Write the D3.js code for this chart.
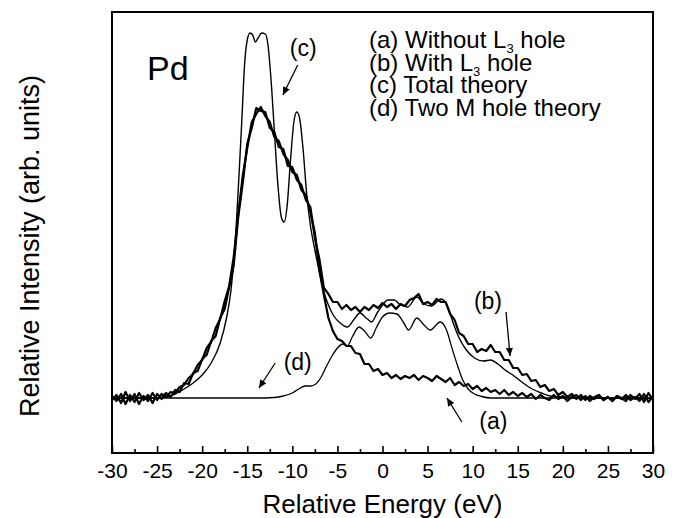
<!DOCTYPE html>
<html>
<head>
<meta charset="utf-8">
<script src="https://cdn.jsdelivr.net/npm/d3@7"></script>
<style>
    body { margin: 0; background: #fff; }
    svg { display: block; font-family: "Liberation Sans", Arial, Helvetica, sans-serif; }
</style>
</head>
<body>
<svg id="chart"></svg>
<script>
// experimental spectra, sampled every 0.5 eV (arb. units, baseline = 0)
const expEnergy = [
    -30, -29.5, -29, -28.5, -28, -27.5, -27, -26.5, -26, -25.5,
    -25, -24.5, -24, -23.5, -23, -22.5, -22, -21.5, -21, -20.5,
    -20, -19.5, -19, -18.5, -18, -17.5, -17, -16.5, -16, -15.5,
    -15, -14.5, -14, -13.5, -13, -12.5, -12, -11.5, -11, -10.5,
    -10, -9.5, -9, -8.5, -8, -7.5, -7, -6.5, -6, -5.5,
    -5, -4.5, -4, -3.5, -3, -2.5, -2, -1.5, -1, -0.5,
    0, 0.5, 1, 1.5, 2, 2.5, 3, 3.5, 4, 4.5,
    5, 5.5, 6, 6.5, 7, 7.5, 8, 8.5, 9, 9.5,
    10, 10.5, 11, 11.5, 12, 12.5, 13, 13.5, 14, 14.5,
    15, 15.5, 16, 16.5, 17, 17.5, 18, 18.5, 19, 19.5,
    20, 20.5, 21, 21.5, 22, 22.5, 23, 23.5, 24, 24.5,
    25, 25.5, 26, 26.5, 27, 27.5, 28, 28.5, 29, 29.5,
    30
]

// (a) Without L3 hole
const withoutL3 = [
    -2, 3, -5, 6, -3, 4, -6, 2, -3, 5,
    -2, 4, 1, 6, 5, 11, 13, 20, 24, 33,
    38, 50, 56, 70, 79, 97, 112, 141, 184, 222,
    250, 276, 284, 291, 282, 276, 261, 257, 244, 238,
    226, 223, 208, 203, 186, 165, 128, 103, 80, 67,
    59, 57, 52, 52, 45, 44, 34, 34, 27, 29,
    23, 25, 20, 23, 19, 22, 20, 23, 18, 22,
    20, 17, 22, 19, 16, 20, 13, 16, 12, 14,
    9, 12, 7, 10, 6, 8, 4, 8, 3, 6,
    2, 5, 1, 4, -1, 3, 0, -2, 3, -1,
    2, -3, 1, 3, -2, 2, -3, 1, 3, -2,
    1, -3, 2, 0, -3, 3, -1, 4, -4, 5,
    -2
]

// (b) With L3 hole
const withL3 = [
    2, -3, 4, -6, 3, -4, 5, -2, 3, -5,
    4, -1, 5, 1, 8, 6, 15, 14, 25, 27,
    39, 43, 57, 62, 80, 89, 111, 133, 181, 215,
    254, 270, 290, 287, 286, 270, 266, 251, 249, 232,
    231, 218, 213, 198, 191, 160, 139, 110, 104, 96,
    96, 89, 93, 88, 91, 86, 91, 88, 93, 90,
    95, 91, 94, 89, 94, 92, 98, 100, 104, 94,
    96, 93, 99, 96, 96, 84, 78, 65, 62, 54,
    54, 46, 49, 47, 53, 46, 46, 38, 38, 30,
    30, 23, 24, 17, 18, 11, 13, 7, 9, 3,
    6, 1, 4, -1, 3, -2, 2, -1, 3, -2,
    1, -3, 2, -1, 3, -2, 1, -3, 4, -4,
    2
]

// (c) Total theory
const totalEnergy = [
    -30, -26, -24, -23, -22, -21, -20, -19, -18, -17.3,
    -16.8, -16.4, -16, -15.6, -15.3, -15, -14.7, -14.4, -14.1, -13.8,
    -13.4, -13, -12.7, -12.4, -12, -11.6, -11.2, -10.9, -10.6, -10.2,
    -9.8, -9.5, -9.2, -8.8, -8.4, -8, -7.5, -7, -6.5, -6,
    -5.4, -4.7, -3.9, -3.2, -2.5, -1.8, -1.2, -0.6, 0, 0.6,
    1.3, 2, 2.8, 3.8, 4.6, 5.4, 6.5, 7.2, 7.8, 8.5,
    9.3, 10.2, 11.2, 12, 12.8, 13.6, 14.6, 15.6, 16.6, 17.6,
    18.6, 20, 22, 30
]
const totalTheory = [
    0, 0, 1, 4, 9, 15, 23, 35, 55, 80,
    108, 148, 208, 278, 333, 358, 365, 363, 356, 360,
    365, 364, 353, 323, 268, 213, 180, 176, 190, 238,
    278, 286, 280, 248, 203, 173, 148, 126, 106, 93,
    82, 75, 71, 78, 85, 80, 76, 85, 93, 98,
    98, 93, 91, 101, 94, 92, 99, 92, 76, 60,
    48, 40, 37, 38, 34, 28, 22, 15, 9, 5,
    2, 1, 0, 0
]

// (d) Two M hole theory
const twoMEnergy = [
    -30, -14, -12, -11, -10, -9.3, -8.6, -8, -7.4, -6.8,
    -6.2, -5.6, -5, -4.4, -3.9, -3.3, -2.6, -2, -1.3, -0.7,
    0, 0.8, 1.6, 2.3, 2.9, 3.8, 4.6, 5.3, 6.4, 7.1,
    7.7, 8.3, 8.9, 9.5, 10.2, 11, 12, 30
]
const twoMTheory = [
    0, 0, 0.5, 2, 5, 9, 12, 12, 14, 21,
    32, 42, 50, 54, 52, 62, 71, 67, 60, 70,
    81, 85, 84, 76, 68, 80, 73, 68, 76, 68,
    50, 33, 18, 9, 4, 1.5, 0, 0
]

const xTicks = [-30, -25, -20, -15, -10, -5, 0, 5, 10, 15, 20, 25, 30]
const xMinorTicks = [-27.5, -22.5, -17.5, -12.5, -7.5, -2.5, 2.5, 7.5, 12.5, 17.5, 22.5, 27.5]

const legendLines = [
    ["(a) Without L", "3", " hole"],
    ["(b) With L", "3", " hole"],
    ["(c) Total theory", "", ""],
    ["(d) Two M hole theory", "", ""]
]

// curve labels: text anchor point and arrow (from -> to), in data coords
const annotations = [
    { label: "(c)", at: [-8.8, 342], from: [-9.4, 333], to: [-11.05, 303] },
    { label: "(d)", at: [-9.4, 28], from: [-11.9, 35], to: [-13.7, 10] },
    { label: "(b)", at: [11.7, 89], from: [13.7, 86], to: [14.15, 42] },
    { label: "(a)", at: [12.3, -31], from: [8.8, -24], to: [7.15, 0] }
]

const config = {
    containerWidth: 678,
    containerHeight: 518,
    margin: { top: 12, right: 25, bottom: 65, left: 112 }
}

const width = config.containerWidth - config.margin.left - config.margin.right
const height = config.containerHeight - config.margin.top - config.margin.bottom

const svg = d3.select('#chart')
    .attr('width', config.containerWidth)
    .attr('height', config.containerHeight)

svg.append('defs').append('marker')
    .attr('id', 'arrow')
    .attr('viewBox', '0 0 10 10')
    .attr('refX', 10)
    .attr('refY', 5)
    .attr('markerWidth', 9)
    .attr('markerHeight', 8)
    .attr('markerUnits', 'userSpaceOnUse')
    .attr('orient', 'auto')
    .append('path')
        .attr('d', 'M0,0.5 L10,5 L0,9.5 Z')
        .attr('fill', '#000')

const chart = svg.append('g')
    .attr('transform', `translate(${config.margin.left}, ${config.margin.top})`)

const xScale = d3.scaleLinear()
    .domain([-30, 30])
    .range([0, width])

const yScale = d3.scaleLinear()
    .domain([-55, 386])
    .range([height, 0])

const zip = (xs, ys) => xs.map((v, i) => [v, ys[i]]).filter(d => d[1] !== undefined)

const smoothLine = d3.line()
    .x(d => xScale(d[0]))
    .y(d => yScale(d[1]))
    .curve(d3.curveMonotoneX)

const rawLine = d3.line()
    .x(d => xScale(d[0]))
    .y(d => yScale(d[1]))

// theory curves (thin)
chart.append('path')
    .datum(zip(twoMEnergy, twoMTheory))
    .attr('fill', 'none')
    .attr('stroke', '#000')
    .attr('stroke-width', 1.3)
    .attr('d', smoothLine)

chart.append('path')
    .datum(zip(totalEnergy, totalTheory))
    .attr('fill', 'none')
    .attr('stroke', '#000')
    .attr('stroke-width', 1.4)
    .attr('d', smoothLine)

// experiment (thick, noisy)
;[withoutL3, withL3].forEach(series => {
    chart.append('path')
        .datum(zip(expEnergy, series))
        .attr('fill', 'none')
        .attr('stroke', '#000')
        .attr('stroke-width', 2.2)
        .attr('stroke-linejoin', 'round')
        .attr('d', rawLine)
})

// axis with inward ticks
const xAxis = d3.axisBottom(xScale)
    .tickValues(xTicks)
    .tickSize(-7)
    .tickPadding(10)
    .tickFormat(d => String(d))

const xMinorAxis = d3.axisBottom(xScale)
    .tickValues(xMinorTicks)
    .tickSize(-4)
    .tickFormat('')

const xAxisGroup = chart.append('g')
    .attr('class', 'axis x-axis')
    .attr('transform', `translate(0, ${height})`)
    .call(xAxis)
    .attr('font-size', 21)
    .attr('font-family', null)

xAxisGroup.select('.domain').remove()
xAxisGroup.selectAll('line').attr('stroke-width', 1.6)
xAxisGroup.selectAll('text').attr('fill', '#000')

const xMinorGroup = chart.append('g')
    .attr('transform', `translate(0, ${height})`)
    .call(xMinorAxis)
xMinorGroup.select('.domain').remove()
xMinorGroup.selectAll('line').attr('stroke-width', 1.6)

// frame
chart.append('rect')
    .attr('x', 0)
    .attr('y', 0)
    .attr('width', width)
    .attr('height', height)
    .attr('fill', 'none')
    .attr('stroke', '#000')
    .attr('stroke-width', 2)

// axis titles
svg.append('text')
    .attr('x', config.margin.left + width / 2)
    .attr('y', 513)
    .attr('text-anchor', 'middle')
    .attr('font-size', 26)
    .text('Relative Energy (eV)')

svg.append('text')
    .attr('transform', `translate(39, ${config.margin.top + 234}) rotate(-90)`)
    .attr('text-anchor', 'middle')
    .attr('font-size', 27)
    .text('Relative Intensity (arb. units)')

// element label
chart.append('text')
    .attr('x', 35)
    .attr('y', 68)
    .attr('font-size', 34)
    .text('Pd')

// legend
const legend = chart.append('g')
    .attr('transform', 'translate(257, 36)')

legend.selectAll('text')
    .data(legendLines)
    .join('text')
        .attr('x', 0)
        .attr('y', (d, i) => i * 22.7)
        .attr('font-size', 24)
        .each(function(d) {
            const t = d3.select(this)
            t.append('tspan').text(d[0])
            if (d[1]) {
                t.append('tspan').attr('font-size', 13).attr('dy', 5).text(d[1])
                t.append('tspan').attr('dy', -5).text(d[2])
            }
        })

// curve annotations
annotations.forEach(a => {
    chart.append('text')
        .attr('x', xScale(a.at[0]))
        .attr('y', yScale(a.at[1]))
        .attr('text-anchor', 'middle')
        .attr('font-size', 23)
        .text(a.label)

    chart.append('line')
        .attr('x1', xScale(a.from[0]))
        .attr('y1', yScale(a.from[1]))
        .attr('x2', xScale(a.to[0]))
        .attr('y2', yScale(a.to[1]))
        .attr('stroke', '#000')
        .attr('stroke-width', 1.3)
        .attr('marker-end', 'url(#arrow)')
})
</script>
</body>
</html>
